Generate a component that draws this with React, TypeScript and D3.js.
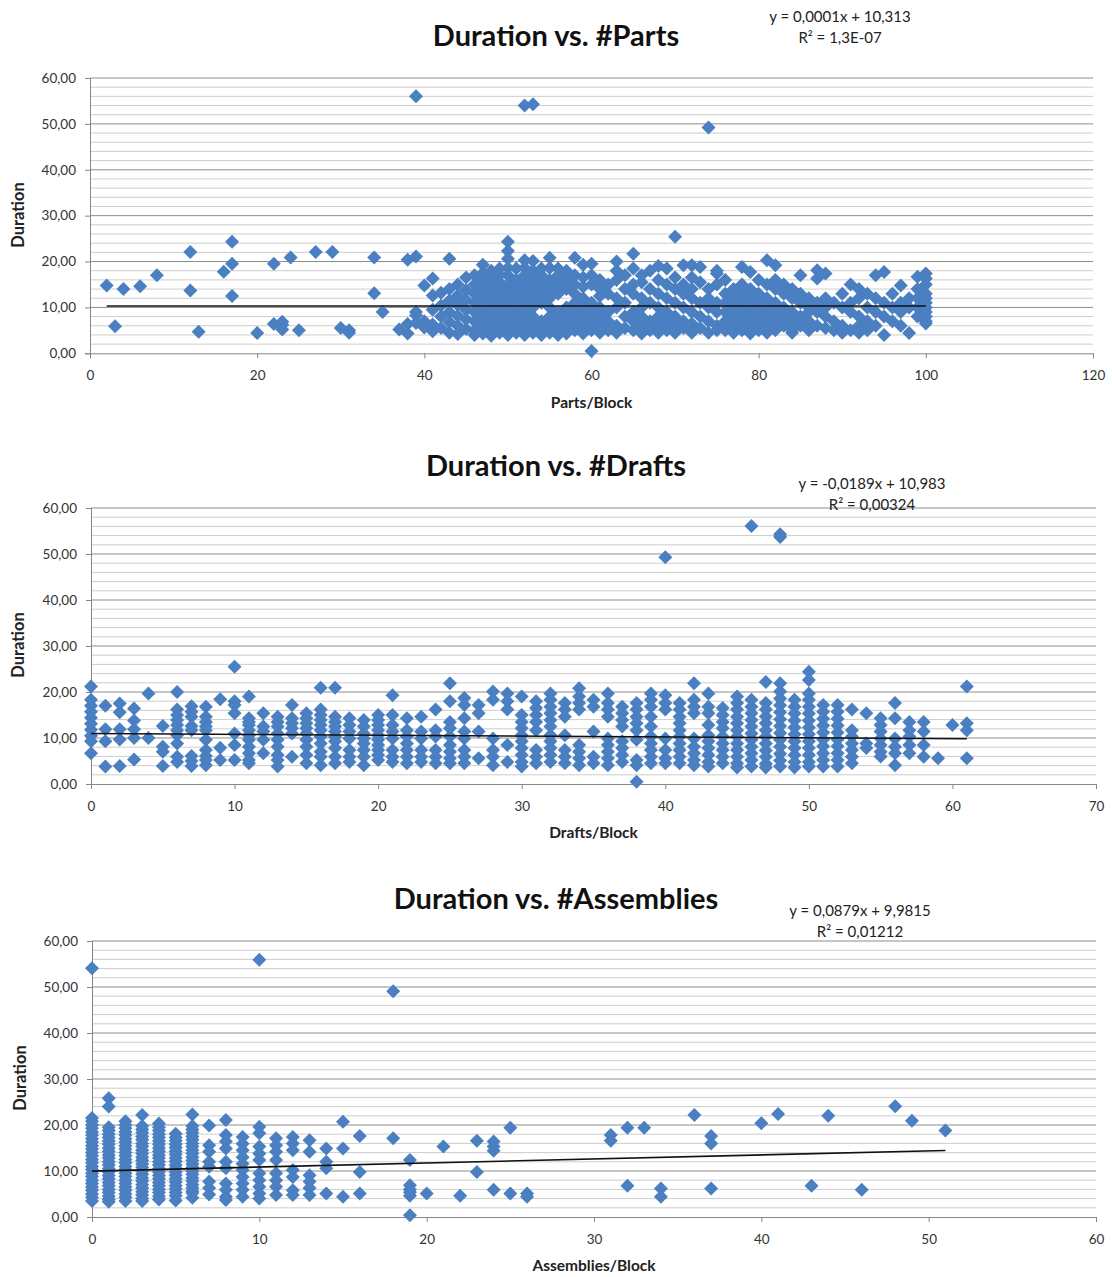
import React, { useEffect, useRef } from 'react';
import * as d3 from 'd3';

type Col = [number, number[]];

// Duration vs. #Parts  -> [parts per block, durations]
const partsCols: Col[] = [
  [2, [14.8]], [3, [5.9]], [4, [14]], [6, [14.6]], [8, [17]],
  [12, [22.1, 13.7]], [13, [4.7]], [16, [17.8]], [17, [24.3, 19.5, 12.5]],
  [20, [4.4]], [22, [19.5, 6.4]], [23, [6.9, 6.2, 5.2]], [24, [20.9]], [25, [5]],
  [27, [22.1]], [29, [22.1]], [30, [5.5]], [31, [5, 4.5]], [34, [20.9, 13.1]],
  [35, [9]], [37, [5.2]], [38, [20.4, 6.4, 4.3]], [39, [56, 21.1, 9, 8.3, 6.6]],
  [40, [14.8, 7, 5.6]],
  [41, [16.3, 12.6, 9.5, 6.3, 4.8]],
  [42, [13.2, 10.4, 8, 5.5]],
  [43, [20.6, 14, 11.5, 9, 6.8, 4.5]],
  [44, [15, 12.6, 10.5, 8.2, 6, 4.2]],
  [45, [16.5, 13.8, 11.6, 9.5, 7.4, 5.3]],
  [46, [17, 15, 13, 11, 9, 7, 5, 4]],
  [47, [19.3, 17.5, 16, 14, 12, 10, 8, 6, 4.3]],
  [48, [18, 16.5, 15, 13, 11, 9, 7, 5, 3.8]],
  [49, [18.5, 17, 15.5, 14, 12, 10, 8, 6, 4.5]],
  [50, [24.3, 22.3, 20.6, 18.6, 17, 15, 13, 11, 9, 7, 5, 4]],
  [51, [18.5, 16, 14, 12, 10, 8, 6, 4.5]],
  [52, [54, 20.3, 18.6, 17, 15, 13, 11, 9, 7, 5, 4]],
  [53, [54.3, 20.1, 18, 16, 14, 12, 10, 8, 6, 4.5]],
  [54, [18.5, 17, 15, 13, 11, 7, 5, 4]],
  [55, [20.8, 18.6, 16, 14, 12, 10, 8, 6, 4.5]],
  [56, [18.5, 17, 15, 13, 9, 7, 5, 4]],
  [57, [18, 16, 14, 10, 8, 6, 4.3]],
  [58, [20.8, 17, 15, 13, 11, 9, 7, 5]],
  [59, [19.3, 16.5, 14.5, 12, 10, 8, 6, 4.3]],
  [60, [19.5, 17, 15, 11, 9, 7, 5, 0.5]],
  [61, [16, 14, 12.5, 10, 8, 6, 4.5]],
  [62, [15, 13, 9, 7, 5]],
  [63, [20, 18, 16, 12, 10, 6, 4.5]],
  [64, [17, 14, 11, 8, 5.5]],
  [65, [21.7, 18.5, 15, 13, 9, 7, 5]],
  [66, [17, 15.5, 12, 10, 8, 6, 4.3]],
  [67, [18, 14, 11, 7, 5]],
  [68, [19, 16, 13, 10, 8, 6, 4.5]],
  [69, [18.5, 15, 12, 9, 7, 5]],
  [70, [25.4, 16.5, 14, 11, 8, 6, 4.5]],
  [71, [19.2, 15, 13, 10, 7, 5.5]],
  [72, [19.2, 16.5, 14, 12, 9, 6.5, 4.5]],
  [73, [18.8, 15.5, 11, 8, 5.5]],
  [74, [49.2, 14, 12, 10, 7, 4.5]],
  [75, [18, 17.4, 15, 11, 9, 6, 5]],
  [76, [16, 13, 11, 9, 7, 5]],
  [77, [14, 12, 10, 8, 6, 4.5]],
  [78, [18.8, 15, 13, 11, 9, 7, 5]],
  [79, [17.7, 14, 12, 10, 8, 6, 4.3]],
  [80, [16, 13, 11, 9, 7, 5]],
  [81, [20.3, 15, 12, 10, 8, 6, 4.5]],
  [82, [19.2, 16, 14, 11, 9, 7, 5]],
  [83, [15, 13, 10, 8, 6]],
  [84, [14, 12, 9, 7, 5, 4.5]],
  [85, [17, 13, 11, 8, 6]],
  [86, [12, 10, 9, 7, 5]],
  [87, [18.1, 16.3, 11, 9, 6]],
  [88, [17.4, 12, 10, 8, 5.5]],
  [89, [11, 7, 5]],
  [90, [13, 10, 6, 4.5]],
  [91, [15, 11, 9, 5]],
  [92, [14, 12, 8, 6, 4.5]],
  [93, [13, 10, 7, 5]],
  [94, [17, 12, 9, 6]],
  [95, [17.7, 11, 8, 4]],
  [96, [13, 10, 7]],
  [97, [14.8, 11, 9, 6]],
  [98, [12, 10, 4.4]],
  [99, [16.7, 14, 12, 10, 8]],
  [100, [17.4, 16.3, 15, 13, 12, 11, 10, 9, 8, 7, 6.5]],
];

// Duration vs. #Drafts
const draftsCols: Col[] = [
  [0, [21.2, 18.3, 17, 15.7, 14.4, 13.1, 11.8, 10.5, 9.3, 6.7]],
  [1, [17, 11.9, 9.3, 3.8]],
  [2, [17.5, 15.6, 11.9, 9.7, 3.9]],
  [3, [16.4, 13.8, 11.9, 10, 5.3]],
  [4, [19.7, 10]],
  [5, [12.6, 8.1, 7, 3.9]],
  [6, [20, 16.2, 15, 13.9, 12.8, 11.7, 10.6, 8.8, 5.9, 4.8]],
  [7, [16.9, 15.7, 14.6, 12.6, 11.7, 6.1, 5, 3.9]],
  [8, [16.8, 14.6, 13.5, 12.5, 11.7, 9.6, 7.4, 6.1, 5.2, 4.1]],
  [9, [18.4, 7.9, 5.2]],
  [10, [25.5, 18, 17.2, 15.4, 11, 8.5, 5.2]],
  [11, [19, 14.3, 13.5, 12.8, 11.7, 10.6, 9.6, 8.1, 6.7, 5.2, 4.5]],
  [12, [15.4, 12.5, 11.4, 9.6, 6.7]],
  [13, [14.6, 13.5, 12.5, 11, 9.6, 8.1, 6.3, 5.2, 3.8]],
  [14, [17.2, 14.3, 13.2, 12.1, 11, 5.9]],
  [15, [15.4, 14.3, 13.2, 12.1, 11, 9.6, 8.1, 6.3, 4.5]],
  [16, [20.9, 16.2, 15, 13.9, 12.8, 11.7, 10.3, 8.8, 7, 5.9, 4.1]],
  [17, [20.9, 14.6, 13.5, 12.5, 11.4, 10.3, 9.3, 7.8, 5.9, 4.5]],
  [18, [14.3, 12.8, 11.4, 9.9, 7.4, 5.9, 4.8]],
  [19, [13.9, 12.5, 11, 9.9, 8.8, 7.4, 5.9, 4.1]],
  [20, [15, 13.9, 12.8, 11.7, 10.6, 9.6, 8.5, 7.4, 6.3, 5.2]],
  [21, [19.3, 15, 12.8, 11.4, 9.9, 7.4, 5.9, 4.8]],
  [22, [14.3, 11.7, 10.3, 8.8, 7.4, 5.9, 4.5]],
  [23, [14.6, 11.4, 9.9, 7.4, 5.9, 4.8]],
  [24, [16.2, 11.7, 10.3, 7.4, 5.9, 4.5]],
  [25, [21.9, 18, 13.5, 12.1, 10.3, 8.5, 7, 5.6, 4.5]],
  [26, [18.7, 17.2, 14.3, 11.4, 9.9, 7.4, 5.9, 4.5]],
  [27, [17.2, 15.4, 11.4, 5.6]],
  [28, [20.1, 18.3, 9.9, 7.4, 5.9, 4.1]],
  [29, [19.7, 18, 16.2, 8.5, 4.8]],
  [30, [19, 15, 13.5, 12.1, 10.6, 9.3, 7.8, 6.3, 4.8, 3.8]],
  [31, [18, 16.5, 15, 13.5, 11.7, 7.4, 5.9, 4.5]],
  [32, [19.7, 18.3, 16.8, 15.4, 13.9, 12.5, 10.6, 9.3, 7.8, 6.3, 4.8]],
  [33, [17.6, 16.2, 14.6, 10.6, 7.4, 5.9, 4.5]],
  [34, [20.8, 19, 17.6, 16.2, 8.5, 7, 5.6, 4.1]],
  [35, [18.3, 16.8, 11.4, 5.9, 4.5]],
  [36, [19.7, 17.6, 16.2, 14.6, 9.9, 8.5, 7, 5.6, 4.1]],
  [37, [16.8, 15.4, 13.9, 12.5, 9.3, 7.8, 6.3, 4.8]],
  [38, [17.6, 16.2, 14.6, 13.2, 11.7, 9.6, 5.2, 4.1, 0.5]],
  [39, [19.7, 18.3, 16.8, 14.6, 12.5, 10.3, 8.8, 7.4, 5.9, 4.5]],
  [40, [49.3, 19.3, 17.6, 16.2, 9.9, 7.4, 5.6, 4.5]],
  [41, [17.6, 16.2, 14.6, 13.2, 11.7, 10.3, 8.8, 7.4, 5.9, 4.5]],
  [42, [21.9, 18.3, 16.8, 15.4, 9.9, 8.1, 6.7, 5.2, 4.1]],
  [43, [19.7, 16.8, 15.4, 12.8, 10.6, 9.3, 7.8, 6.3, 4.8, 3.8]],
  [44, [16.5, 15, 13.5, 12.1, 10.3, 8.8, 7.4, 5.9, 4.5]],
  [45, [19, 17.6, 16.2, 14.6, 13.2, 11.7, 10.3, 8.8, 7.4, 5.9, 4.5, 3.6]],
  [46, [56.1, 18.3, 16.8, 15.4, 13.9, 12.5, 11, 9.6, 8.1, 6.7, 5.2, 3.8]],
  [47, [22.2, 17.6, 16.2, 14.7, 13.2, 11.7, 10.3, 8.8, 7.3, 5.9, 4.4, 3.6]],
  [48, [54.3, 53.7, 21.9, 20.1, 18.6, 17.1, 15.6, 14.1, 12.6, 11.1, 9.6, 8.1, 6.6, 5.1, 3.8]],
  [49, [18.3, 16.8, 15.3, 13.8, 12.3, 10.8, 9.3, 7.8, 6.3, 4.8, 3.6]],
  [50, [24.4, 22.6, 19.7, 18.3, 16.8, 15.3, 13.8, 12.3, 10.8, 9.3, 7.8, 6.3, 4.8, 3.8]],
  [51, [17.2, 15.7, 14.2, 12.7, 11.2, 9.7, 8.2, 6.7, 5.2, 3.8]],
  [52, [17.2, 15.7, 14.2, 12.7, 11.2, 9.7, 8.2, 6.7, 5.2, 3.8]],
  [53, [16.2, 11.7, 10.3, 8.8, 7.4, 5.9, 4.5]],
  [54, [15.4, 8.8, 7.8]],
  [55, [14.3, 12.8, 11.4, 9.9, 8.5, 7, 6]],
  [56, [17.6, 14.3, 9.9, 8.1, 6.7, 4.1]],
  [57, [13.5, 11.7, 10.3, 8.5, 6.7]],
  [58, [13.5, 11.4, 8.5, 5.9]],
  [59, [5.6]],
  [60, [12.8]],
  [61, [21.2, 13.2, 11.7, 5.6]],
];

// Duration vs. #Assemblies
const assemblyCols: Col[] = [
  [0, [54.1, 21.5, 20.8, 20, 19.3, 18.5, 17.8, 17, 16.3, 15.5, 14.8, 14, 13.3, 12.5, 11.8, 11, 10.3, 9.5, 8.8, 8, 7.3, 6.5, 5.8, 5, 4.3, 3.5]],
  [1, [25.8, 24, 19.5, 18.8, 18, 17.3, 16.5, 15.8, 15, 14.3, 13.5, 12.8, 12, 11.3, 10.5, 9.8, 9, 8.3, 7.5, 6.8, 6, 5.3, 4.5, 3.8, 3.3]],
  [2, [20.8, 20, 19.3, 18.5, 17.8, 17, 16.3, 15.5, 14.8, 14, 13.3, 12.5, 11.8, 11, 10.3, 9.5, 8.8, 8, 7.3, 6.5, 5.8, 5, 4.3, 3.5]],
  [3, [22.2, 19.8, 19, 18.3, 17.5, 16.8, 16, 15.3, 14.5, 13.8, 13, 12.3, 11.5, 10.8, 10, 9.3, 8.5, 7.8, 7, 6.3, 5.5, 4.8, 4, 3.5]],
  [4, [20.3, 19.5, 18.8, 18, 17.3, 16.5, 15.8, 15, 14.3, 13.5, 12.8, 12, 11.3, 10.5, 9.8, 9, 8.3, 7.5, 6.8, 6, 5.3, 4.5, 3.8]],
  [5, [18.1, 17.3, 16.6, 15.8, 15.1, 14.3, 13.6, 12.8, 12.1, 11.3, 10.6, 9.8, 9.1, 8.3, 7.6, 6.8, 6.1, 5.3, 4.6, 3.6]],
  [6, [22.3, 19.8, 19, 18.3, 17.5, 16.8, 16, 15.3, 14.5, 13.8, 13, 12.3, 11.5, 10.8, 10, 9.3, 8.5, 7.8, 7, 6.3, 5.6, 5.2, 4.2]],
  [7, [19.9, 15.6, 14.2, 12, 10.9, 7.7, 6.3, 4.9]],
  [8, [21.1, 17.8, 16.4, 14.9, 12, 10.6, 7.3, 5.9, 4.4, 3.7]],
  [9, [17.4, 15.9, 14.5, 13, 11.6, 10.2, 8.7, 7.3, 5.9, 4.4]],
  [10, [55.9, 19.6, 18.2, 15.3, 13.8, 12.4, 9.5, 8, 6.6, 5.1, 4]],
  [11, [17.1, 15.6, 14.2, 12.4, 9.5, 8, 6.6, 4.8]],
  [12, [17.4, 16, 14.5, 10.2, 8.7, 5.8, 4.8]],
  [13, [16.7, 14.2, 9.1, 7.7, 6.3, 4.8]],
  [14, [14.9, 12, 10.6, 5.1]],
  [15, [20.7, 14.9, 4.4]],
  [16, [17.6, 9.8, 5.1]],
  [18, [49.1, 17.1]],
  [19, [12.4, 6.9, 6, 5.4, 4.6, 0.4]],
  [20, [5.1]], [21, [15.3]], [22, [4.6]], [23, [16.6, 9.8]],
  [24, [16.4, 15.3, 14.4, 5.9]], [25, [19.4, 5.1]], [26, [5.1, 4.4]],
  [31, [17.8, 16.6]], [32, [19.4, 6.8]], [33, [19.4]], [34, [6.2, 4.4]],
  [36, [22.2]], [37, [17.6, 16, 6.2]], [40, [20.4]], [41, [22.4]],
  [43, [6.8]], [44, [22]], [46, [5.9]], [48, [24.1]], [49, [20.9]], [51, [18.8]],
];

const yTicks = [0, 10, 20, 30, 40, 50, 60];
const partsXTicks = [0, 20, 40, 60, 80, 100, 120];
const draftsXTicks = [0, 10, 20, 30, 40, 50, 60, 70];
const assemblyXTicks = [0, 10, 20, 30, 40, 50, 60];

const titles = ['Duration vs. #Parts', 'Duration vs. #Drafts', 'Duration vs. #Assemblies'];
const xLabels = ['Parts/Block', 'Drafts/Block', 'Assemblies/Block'];
const equations = [
  ['y = 0,0001x + 10,313', 'R² = 1,3E-07'],
  ['y = -0,0189x + 10,983', 'R² = 0,00324'],
  ['y = 0,0879x + 9,9815', 'R² = 0,01212'],
];
// slope, intercept, first x, last x
const trends = [
  [0.0001, 10.313, 2, 100],
  [-0.0189, 10.983, 0, 61],
  [0.0879, 9.9815, 0, 51],
];

const layouts = [
  { left: 90, right: 1093, top: 78, bottom: 353.3, titleY: 46, eqX: 840, eqY: 22, xLabelY: 408, yLabelX: 18, yLabelY: 215 },
  { left: 91, right: 1096, top: 508, bottom: 784, titleY: 476, eqX: 872, eqY: 489, xLabelY: 838, yLabelX: 18, yLabelY: 645 },
  { left: 92, right: 1096, top: 941, bottom: 1217, titleY: 909, eqX: 860, eqY: 916, xLabelY: 1271, yLabelX: 20, yLabelY: 1078 },
];

const FONT = 'Lato, "Open Sans", sans-serif';
const BLUE = '#4a7fc1';
const fmt = d3.formatLocale({ decimal: ',', thousands: '.', grouping: [3], currency: ['', ''] }).format('.2f');

function drawChart(svg: any, i: number, cols: Col[], xTicks: number[]) {
  const c = layouts[i];
  const g = svg.append('g');
  const x = d3.scaleLinear().domain([0, xTicks[xTicks.length - 1]]).range([c.left, c.right]);
  const y = d3.scaleLinear().domain([0, 60]).range([c.bottom, c.top]);

  const minor = d3.range(2, 60, 2).filter(v => v % 10 !== 0);
  g.append('g').selectAll('line').data(minor).join('line')
    .attr('x1', c.left).attr('x2', c.right)
    .attr('y1', d => y(d)).attr('y2', d => y(d))
    .attr('stroke', '#cdcdcd').attr('stroke-width', 1);
  g.append('g').selectAll('line').data(yTicks.slice(1)).join('line')
    .attr('x1', c.left).attr('x2', c.right)
    .attr('y1', d => y(d)).attr('y2', d => y(d))
    .attr('stroke', '#8c8c8c').attr('stroke-width', 1);

  const yAx = g.append('g').attr('transform', `translate(${c.left},0)`)
    .call(d3.axisLeft(y).tickValues(yTicks).tickSize(5).tickPadding(9).tickFormat(d => fmt(d as number)));
  const xAx = g.append('g').attr('transform', `translate(0,${c.bottom})`)
    .call(d3.axisBottom(x).tickValues(xTicks).tickSize(5).tickPadding(12).tickFormat(d3.format('d')));
  [yAx, xAx].forEach(a => {
    a.selectAll('path,line').attr('stroke', '#868686');
    a.selectAll('text').attr('font-family', FONT).attr('font-size', 13.5).attr('fill', '#333');
  });

  const pts = cols.flatMap(([xv, ys]) => ys.map(yv => [xv, yv]));
  g.append('g').selectAll('path').data(pts).join('path')
    .attr('d', d3.symbol(d3.symbolSquare, 98))
    .attr('transform', d => `translate(${x(d[0])},${y(d[1])}) rotate(45)`)
    .attr('fill', BLUE);

  const [a, b, x0, x1] = trends[i];
  g.append('path')
    .attr('d', d3.line()([[x(x0), y(a * x0 + b)], [x(x1), y(a * x1 + b)]]))
    .attr('stroke', '#111').attr('stroke-width', 1.6).attr('fill', 'none');

  g.append('text').attr('x', 556).attr('y', c.titleY).attr('text-anchor', 'middle')
    .attr('font-family', FONT).attr('font-weight', 'bold').attr('font-size', 29).attr('fill', '#111')
    .text(titles[i]);
  equations[i].forEach((t, k) => {
    g.append('text').attr('x', c.eqX).attr('y', c.eqY + k * 21).attr('text-anchor', 'middle')
      .attr('font-family', FONT).attr('font-size', 15).attr('fill', '#222').text(t);
  });
  g.append('text').attr('x', (c.left + c.right) / 2).attr('y', c.xLabelY).attr('text-anchor', 'middle')
    .attr('font-family', FONT).attr('font-weight', 'bold').attr('font-size', 15.5).attr('fill', '#222')
    .text(xLabels[i]);
  g.append('text').attr('transform', `translate(${c.yLabelX},${c.yLabelY}) rotate(-90)`)
    .attr('text-anchor', 'middle').attr('dy', '0.35em')
    .attr('font-family', FONT).attr('font-weight', 'bold').attr('font-size', 16.5).attr('fill', '#222')
    .text('Duration');
}

export default function App() {
  const svgRef = useRef<SVGSVGElement>(null);

  useEffect(() => {
    const svg = d3.select(svgRef.current);
    svg.selectAll('*').remove();
    drawChart(svg, 0, partsCols, partsXTicks);
    drawChart(svg, 1, draftsCols, draftsXTicks);
    drawChart(svg, 2, assemblyCols, assemblyXTicks);
  }, []);

  return (
    <svg ref={svgRef} width={1112} height={1277}
      style={{ position: 'absolute', left: 0, top: 0, background: '#fff' }} />
  );
}
